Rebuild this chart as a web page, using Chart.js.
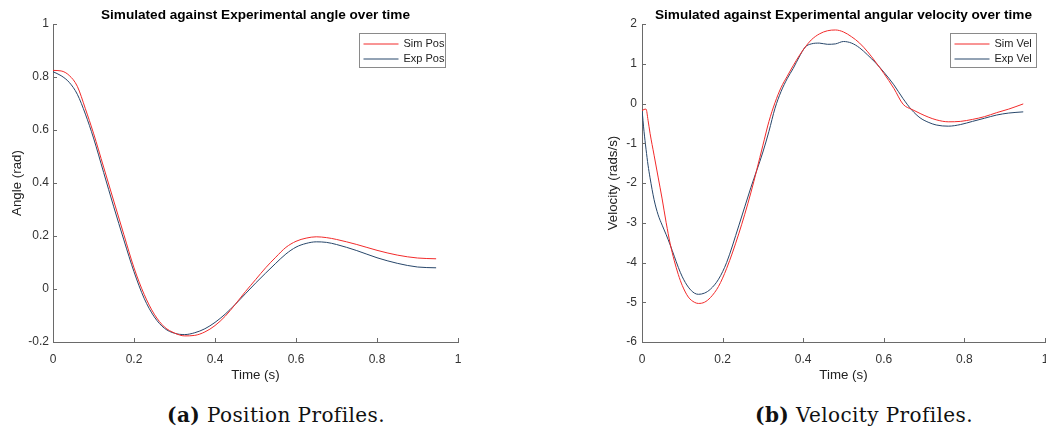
<!DOCTYPE html>
<html>
<head>
<meta charset="utf-8">
<script src="https://cdn.jsdelivr.net/npm/chart.js@4.4.1/dist/chart.umd.min.js"></script>
<style>
  body { margin: 0; background: #fff; width: 1046px; height: 433px; position: relative; overflow: hidden; }
  .panel { position: absolute; top: 0; }
  .caption { position: absolute; top: 403px; width: 400px; text-align: center; font: 20px "DejaVu Serif", serif; letter-spacing: 0.4px; line-height: 24px; color: #111; white-space: nowrap; }
</style>
</head>
<body>
<div class="panel" style="left:0px"><canvas id="posChart" width="480" height="386"></canvas></div>
<div class="panel" style="left:560px"><canvas id="velChart" width="486" height="386"></canvas></div>
<div class="caption" style="left:76px"><b>(a)</b> Position Profiles.</div>
<div class="caption" style="left:664px"><b>(b)</b> Velocity Profiles.</div>

<script>
// angle (rad) against time (s)
const posTime = [0, 0.02, 0.04, 0.06, 0.08, 0.1, 0.125, 0.15, 0.175, 0.2, 0.225, 0.25, 0.275, 0.3,
    0.325, 0.35, 0.375, 0.4, 0.425, 0.45, 0.475, 0.5, 0.525, 0.55, 0.575, 0.6, 0.625, 0.65, 0.675,
    0.7, 0.75, 0.8, 0.85, 0.9, 0.946];
const simPos = [0.825, 0.823, 0.806, 0.765, 0.68, 0.588, 0.46, 0.332, 0.205, 0.08, -0.02, -0.095, -0.143, -0.166,
    -0.177, -0.175, -0.162, -0.138, -0.103, -0.058, -0.01, 0.035, 0.08, 0.12, 0.157, 0.18, 0.192, 0.197, 0.194,
    0.187, 0.168, 0.146, 0.128, 0.117, 0.114];
const expPos = [0.82, 0.805, 0.78, 0.735, 0.66, 0.57, 0.44, 0.31, 0.185, 0.065, -0.035, -0.105, -0.148, -0.167,
    -0.172, -0.165, -0.15, -0.126, -0.095, -0.058, -0.018, 0.022, 0.06, 0.097, 0.132, 0.158, 0.172, 0.178, 0.176,
    0.168, 0.145, 0.118, 0.097, 0.083, 0.08];

// angular velocity (rads/s) against time (s)
const velTime = [0, 0.005, 0.01, 0.015, 0.02, 0.03, 0.04, 0.05, 0.06, 0.07, 0.08, 0.09, 0.1, 0.115, 0.13,
    0.14, 0.155, 0.17, 0.19, 0.21, 0.24, 0.27, 0.3, 0.315, 0.33, 0.345, 0.36, 0.375, 0.39, 0.405,
    0.42, 0.44, 0.46, 0.48, 0.5, 0.52, 0.54, 0.56, 0.58, 0.6, 0.625, 0.648, 0.67, 0.69, 0.71,
    0.73, 0.76, 0.79, 0.82, 0.85, 0.88, 0.91, 0.946];
const simVel = [-0.18, -0.15, -0.14, -0.42, -0.75, -1.3, -1.85, -2.4, -3.0, -3.53, -3.95, -4.3, -4.58, -4.87, -5.0,
    -5.03, -5.0, -4.88, -4.6, -4.15, -3.28, -2.25, -1.05, -0.45, 0.02, 0.4, 0.68, 0.95, 1.2, 1.42,
    1.6, 1.75, 1.83, 1.85, 1.8, 1.68, 1.52, 1.3, 1.04, 0.76, 0.38, -0.02, -0.15, -0.25, -0.34,
    -0.41, -0.46, -0.45, -0.4, -0.33, -0.23, -0.14, -0.01];
const expVel = [-0.15, -0.7, -1.15, -1.55, -1.87, -2.42, -2.8, -3.06, -3.3, -3.56, -3.84, -4.12, -4.36, -4.62, -4.77,
    -4.8, -4.77, -4.67, -4.42, -4.0, -3.08, -2.12, -1.22, -0.7, -0.12, 0.3, 0.62, 0.88, 1.17, 1.42,
    1.5, 1.52, 1.49, 1.5, 1.56, 1.52, 1.4, 1.22, 1.02, 0.79, 0.47, 0.12, -0.17, -0.36, -0.47,
    -0.54, -0.57, -0.53, -0.45, -0.37, -0.29, -0.24, -0.21];

const timeTicks = [0, 1, 0.2];
const posTicks = [-0.2, 1, 0.2];
const velTicks = [-6, 2, 1];

const simColor = '#f22a2a';
const expColor = '#27466a';
const axisColor = '#6a6a6a';

Chart.defaults.font.family = '"Liberation Sans", Arial, Helvetica, sans-serif';
Chart.defaults.color = '#333';

function points(xs, ys) {
    return xs.map((x, i) => ({ x: x, y: ys[i] }));
}

// 0, 0.2, 1 rather than 0.0, 0.2, 1.0
function tickText(v) {
    if (Math.abs(v) < 1e-9) return '0';
    return String(parseFloat(v.toFixed(3)));
}

// matlab style ticks pointing into the axes
const innerTicks = {
    id: 'innerTicks',
    afterDraw(chart) {
        const { ctx, chartArea: a, scales } = chart;
        ctx.save();
        ctx.strokeStyle = axisColor;
        ctx.lineWidth = 1;
        ctx.beginPath();
        scales.x.ticks.forEach((t, i) => {
            const px = Math.round(scales.x.getPixelForTick(i)) + 0.5;
            ctx.moveTo(px, a.bottom);
            ctx.lineTo(px, a.bottom - 4);
        });
        scales.y.ticks.forEach((t, i) => {
            const py = Math.round(scales.y.getPixelForTick(i)) + 0.5;
            ctx.moveTo(a.left, py);
            ctx.lineTo(a.left + 4, py);
        });
        ctx.stroke();
        ctx.restore();
    }
};

// boxed legend in the top right corner of the axes
const boxLegend = {
    id: 'boxLegend',
    afterDraw(chart, args, opts) {
        const { ctx, chartArea: a } = chart;
        const w = 86, h = 34;
        const left = Math.round(a.right - opts.right - w) + 0.5;
        const top = Math.round(a.top + opts.top) + 0.5;
        ctx.save();
        ctx.fillStyle = '#fff';
        ctx.fillRect(left, top, w, h);
        ctx.strokeStyle = '#8a8a8a';
        ctx.lineWidth = 1;
        ctx.strokeRect(left, top, w, h);
        ctx.font = '11px "Liberation Sans", Arial, sans-serif';
        ctx.textBaseline = 'middle';
        ctx.fillStyle = '#222';
        chart.data.datasets.forEach((ds, i) => {
            const y = top + 10.5 + i * 15;
            ctx.strokeStyle = ds.borderColor;
            ctx.beginPath();
            ctx.moveTo(left + 4, y);
            ctx.lineTo(left + 39, y);
            ctx.stroke();
            ctx.fillText(ds.label, left + 44, y);
        });
        ctx.restore();
    }
};

function makeChart(id, opts) {
    return new Chart(document.getElementById(id), {
        type: 'line',
        data: {
            datasets: [
                { label: opts.names[0], data: points(opts.time, opts.sim), borderColor: simColor },
                { label: opts.names[1], data: points(opts.time, opts.exp), borderColor: expColor }
            ]
        },
        options: {
            responsive: false,
            animation: false,
            layout: { padding: { left: 0, right: opts.padRight, top: 0, bottom: 0 } },
            elements: {
                point: { radius: 0 },
                line: { borderWidth: 1, cubicInterpolationMode: 'monotone' }
            },
            scales: {
                x: {
                    type: 'linear',
                    min: timeTicks[0], max: timeTicks[1],
                    ticks: { stepSize: timeTicks[2], padding: 10, color: '#333', font: { size: 12 }, callback: tickText },
                    grid: { display: false, drawTicks: false },
                    border: { display: true, color: axisColor },
                    title: { display: true, text: 'Time (s)', color: '#222', font: { size: 13.3 }, padding: { top: 0, bottom: 2.3 } },
                    afterFit(s) { s.height = 44; s.paddingRight = 0; }
                },
                y: {
                    min: opts.yTicks[0], max: opts.yTicks[1],
                    ticks: { stepSize: opts.yTicks[2], padding: opts.tickPad, color: '#333', font: { size: 12 }, callback: tickText },
                    grid: { display: false, drawTicks: false },
                    border: { display: true, color: axisColor },
                    title: { display: true, text: opts.yTitle, color: '#222', font: { size: 13.3 }, padding: { top: opts.titlePad, bottom: 0 } },
                    afterFit(s) { s.width = opts.axisWidth; }
                }
            },
            plugins: {
                legend: { display: false },
                tooltip: { enabled: false },
                title: {
                    display: true,
                    text: opts.title,
                    fullSize: false,
                    color: '#000',
                    font: { size: 13.6, weight: 'bold' },
                    padding: { top: 6.8, bottom: 0.9 }
                },
                boxLegend: { right: opts.legendRight, top: 9 }
            }
        },
        plugins: [innerTicks, boxLegend]
    });
}

makeChart('posChart', {
    time: posTime, sim: simPos, exp: expPos,
    names: ['Sim Pos', 'Exp Pos'],
    title: 'Simulated against Experimental angle over time',
    yTitle: 'Angle (rad)',
    yTicks: posTicks,
    axisWidth: 53, tickPad: 4, titlePad: 9,
    padRight: 22, legendRight: 13
});

makeChart('velChart', {
    time: velTime, sim: simVel, exp: expVel,
    names: ['Sim Vel', 'Exp Vel'],
    title: 'Simulated against Experimental angular velocity over time',
    yTitle: 'Velocity (rads/s)',
    yTicks: velTicks,
    axisWidth: 82, tickPad: 5, titlePad: 45,
    padRight: 1, legendRight: 9
});
</script>
</body>
</html>
